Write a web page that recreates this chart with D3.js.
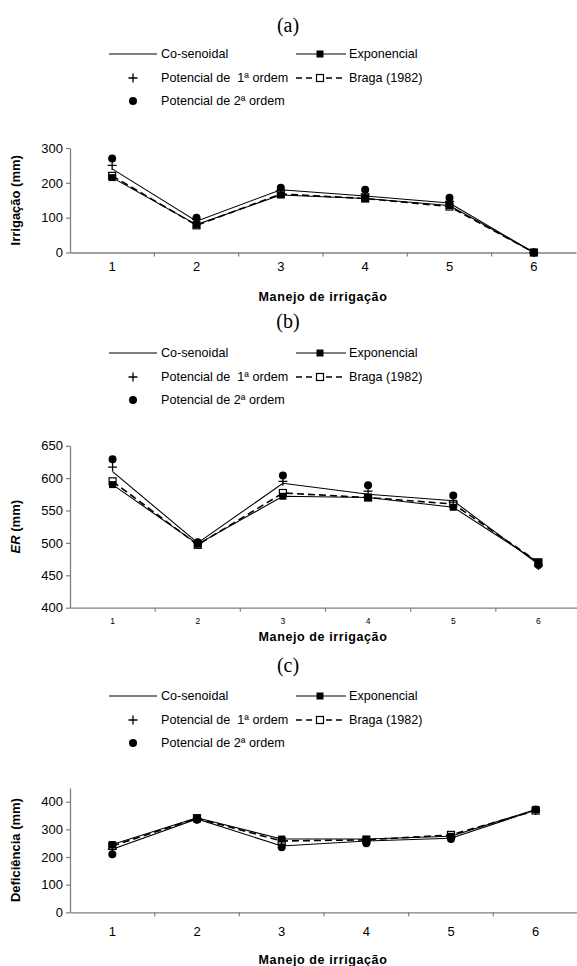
<!DOCTYPE html>
<html>
<head>
<meta charset="utf-8">
<script src="https://cdn.jsdelivr.net/npm/d3@7/dist/d3.min.js"></script>
<style>
  body { margin: 0; background: #fff; }
  svg { display: block; }
  text { font-family: "Liberation Sans", Arial, sans-serif; }
</style>
</head>
<body>
<script>
// categories and values
var categories = ["1", "2", "3", "4", "5", "6"];

var irrCos  = [240, 90, 180, 162, 142, 0];
var irrExp  = [215, 80, 165, 155, 135, 0];
var irrBra  = [220, 78, 168, 155, 132, 0];
var irrPot1 = [250, 95, 178, 168, 147, 0];
var irrPot2 = [270, 100, 186, 180, 157, 0];

var erCos  = [610, 500, 592, 575, 565, 467];
var erExp  = [590, 498, 572, 570, 555, 470];
var erBra  = [595, 497, 577, 570, 560, 470];
var erPot1 = [617, 500, 595, 580, 563, 465];
var erPot2 = [629, 501, 604, 589, 573, 466];

var defCos  = [228, 338, 240, 258, 268, 370];
var defExp  = [245, 342, 265, 265, 275, 372];
var defBra  = [240, 340, 258, 262, 280, 368];
var defPot1 = [228, 337, 245, 258, 270, 368];
var defPot2 = [210, 335, 235, 250, 265, 372];

var irrTicks = [0, 100, 200, 300];
var erTicks  = [400, 450, 500, 550, 600, 650];
var defTicks = [0, 100, 200, 300, 400];

var legendNames = ["Co-senoidal", "Exponencial", "Potencial de  1ª ordem", "Braga (1982)", "Potencial de 2ª ordem"];

var svg = d3.select("body").append("svg").attr("width", 577).attr("height", 966);

function series(cos, exp, bra, pot1, pot2) {
  return [
    {key: "cos", values: cos, line: "solid", marker: null},
    {key: "bra", values: bra, line: "dash", marker: "open"},
    {key: "exp", values: exp, line: "solid", marker: "square"},
    {key: "pot1", values: pot1, line: null, marker: "plus"},
    {key: "pot2", values: pot2, line: null, marker: "dot"}
  ];
}

function drawMarker(g, type, x, y) {
  if (type == "square") {
    g.append("rect").attr("x", x - 3.5).attr("y", y - 3.5).attr("width", 7).attr("height", 7).attr("fill", "#000");
  } else if (type == "open") {
    g.append("rect").attr("x", x - 3.5).attr("y", y - 3.5).attr("width", 7).attr("height", 7)
      .attr("fill", "#fff").attr("stroke", "#000").attr("stroke-width", 1.2);
  } else if (type == "dot") {
    g.append("circle").attr("cx", x).attr("cy", y).attr("r", 4).attr("fill", "#000");
  } else if (type == "plus") {
    g.append("path").attr("d", "M" + (x - 4.5) + "," + y + "H" + (x + 4.5) + "M" + x + "," + (y - 4.5) + "V" + (y + 4.5))
      .attr("stroke", "#000").attr("stroke-width", 1.3);
  }
}

function legend(g, top) {
  var rows = [top, top + 24, top + 47];
  // row 1
  g.append("line").attr("x1", 109).attr("x2", 157).attr("y1", rows[0]).attr("y2", rows[0]).attr("stroke", "#000").attr("stroke-width", 1.2);
  g.append("line").attr("x1", 296).attr("x2", 346).attr("y1", rows[0]).attr("y2", rows[0]).attr("stroke", "#000").attr("stroke-width", 1.2);
  drawMarker(g, "square", 320, rows[0]);
  // row 2
  drawMarker(g, "plus", 133, rows[1]);
  g.append("line").attr("x1", 296).attr("x2", 346).attr("y1", rows[1]).attr("y2", rows[1])
    .attr("stroke", "#000").attr("stroke-width", 1.5).attr("stroke-dasharray", "6,4");
  drawMarker(g, "open", 320, rows[1]);
  // row 3
  drawMarker(g, "dot", 133, rows[2]);

  var pos = [[161, rows[0]], [349, rows[0]], [161, rows[1]], [349, rows[1]], [161, rows[2]]];
  legendNames.forEach(function(name, i) {
    g.append("text").attr("x", pos[i][0]).attr("y", pos[i][1]).attr("dy", "0.35em")
      .attr("font-size", 12.6).attr("fill", "#000").attr("xml:space", "preserve").text(name);
  });
}

function panel(opt) {
  var g = svg.append("g");

  g.append("text").attr("x", 288).attr("y", opt.titleY).attr("text-anchor", "middle")
    .attr("font-size", 20).style("font-family", "'Liberation Serif', 'DejaVu Serif', serif").text(opt.title);

  legend(g, opt.legendTop);

  var x = d3.scaleBand().domain(categories).range([70, opt.xEnd]);
  var y = d3.scaleLinear().domain(opt.domain).range([opt.bottom, opt.top]);

  // axes
  var xAxis = d3.axisBottom(x).tickSize(0).tickPadding(opt.xPad);
  var gx = g.append("g").attr("transform", "translate(0," + opt.bottom + ")").call(xAxis);
  gx.select(".domain").attr("stroke", "#808080").attr("stroke-width", 1.3);
  gx.selectAll("text").attr("font-size", opt.xFont).attr("fill", "#000").style("font-family", "'Liberation Sans', Arial, sans-serif");
  // tick marks at category boundaries
  gx.selectAll("line.bound").data(categories.slice(1)).enter().append("line").attr("class", "bound")
    .attr("x1", function(d) { return x(d); }).attr("x2", function(d) { return x(d); })
    .attr("y1", 0).attr("y2", 4).attr("stroke", "#808080").attr("stroke-width", 1.2);

  var yAxis = d3.axisLeft(y).tickValues(opt.ticks).tickSize(4).tickSizeOuter(0).tickPadding(3);
  var gy = g.append("g").attr("transform", "translate(70,0)").call(yAxis);
  gy.select(".domain").attr("stroke", "#808080").attr("stroke-width", 1.3);
  gy.selectAll(".tick line").attr("stroke", "#808080").attr("stroke-width", 1.2);
  gy.selectAll("text").attr("font-size", 13).attr("fill", "#000").style("font-family", "'Liberation Sans', Arial, sans-serif");

  // y title
  var yt = g.append("text").attr("transform", "translate(" + opt.yTitleX + "," + ((opt.top + opt.bottom) / 2) + ") rotate(-90)")
    .attr("text-anchor", "middle").attr("font-size", 13).attr("font-weight", "bold");
  opt.yTitle.forEach(function(part) {
    yt.append("tspan").attr("font-style", part[1] ? "italic" : "normal").text(part[0]);
  });

  // x title
  g.append("text").attr("x", 323).attr("y", opt.xTitleY).attr("text-anchor", "middle")
    .attr("font-size", 12.5).attr("font-weight", "bold").attr("letter-spacing", 0.6).text("Manejo de irrigação");

  var cx = function(d, i) { return x(categories[i]) + x.bandwidth() / 2; };

  opt.series.forEach(function(s) {
    if (!s.line) return;
    var line = d3.line().x(cx).y(function(d) { return y(d); });
    g.append("path").datum(s.values).attr("d", line).attr("fill", "none").attr("stroke", "#000")
      .attr("stroke-width", s.line == "dash" ? 1.6 : 1.1)
      .attr("stroke-dasharray", s.line == "dash" ? "7,4" : null);
  });

  opt.series.forEach(function(s) {
    if (!s.marker) return;
    var mg = g.append("g");
    s.values.forEach(function(v, i) { drawMarker(mg, s.marker, cx(v, i), y(v)); });
  });
}

panel({
  title: "(a)", titleY: 32, legendTop: 54,
  domain: [0, 300], ticks: irrTicks, top: 148, bottom: 252.5, xEnd: 576,
  xPad: 9, xFont: 13, xTitleY: 301, yTitleX: 20,
  yTitle: [["Irrigação (mm)", false]],
  series: series(irrCos, irrExp, irrBra, irrPot1, irrPot2)
});

panel({
  title: "(b)", titleY: 328, legendTop: 353,
  domain: [400, 650], ticks: erTicks, top: 445.7, bottom: 607.7, xEnd: 581,
  xPad: 10, xFont: 8.5, xTitleY: 641, yTitleX: 20,
  yTitle: [["ER", true], [" (mm)", false]],
  series: series(erCos, erExp, erBra, erPot1, erPot2)
});

panel({
  title: "(c)", titleY: 672, legendTop: 696,
  domain: [0, 450], ticks: defTicks, top: 787.9, bottom: 912.3, xEnd: 578,
  xPad: 14, xFont: 13, xTitleY: 964, yTitleX: 20,
  yTitle: [["Deficiência (mm)", false]],
  series: series(defCos, defExp, defBra, defPot1, defPot2)
});
</script>
</body>
</html>
